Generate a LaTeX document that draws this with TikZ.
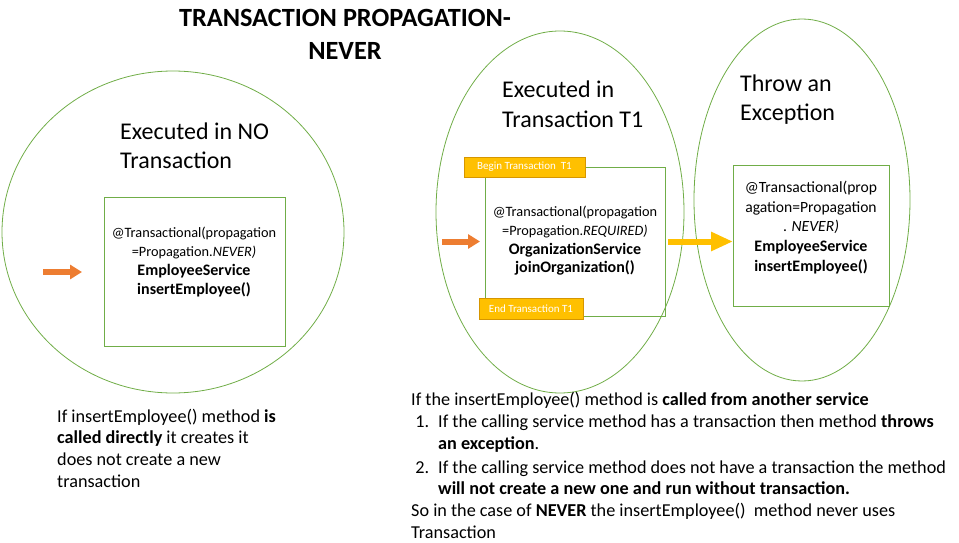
\documentclass[tikz,border=0pt]{standalone}
\usepackage{fontspec}
\setmainfont{Carlito}
\usetikzlibrary{arrows.meta,shapes.geometric}
\definecolor{zonegreen}{RGB}{112,173,71}
\definecolor{callorange}{RGB}{237,125,49}
\definecolor{txgold}{RGB}{255,192,0}
\definecolor{txgoldline}{RGB}{214,150,0}
\newcommand\svcname[1]{{\fontsize{16}{18.7}\selectfont\bfseries #1}}
\tikzset{>=stealth,
  zone/.style={ellipse,draw=zonegreen,line width=0.8pt,inner sep=0pt,outer sep=0pt},
  svcbox/.style={rectangle,draw=zonegreen,line width=0.8pt,inner sep=0pt,outer sep=0pt},
  svctext/.style={align=center,inner sep=0pt,font=\fontsize{14.3}{18.7}\selectfont},
  heading/.style={align=left,anchor=base west,inner sep=0pt,font=\fontsize{24}{29}\selectfont},
  note/.style={align=left,anchor=base west,inner sep=0pt,font=\fontsize{18.2}{21.6}\selectfont},
  txlabel/.style={rectangle,fill=txgold,draw=txgoldline,line width=0.6pt,text=white,
    inner sep=0pt,font=\fontsize{11}{12}\selectfont},
  callarrow/.style={draw=callorange,line width=6pt,-{Triangle[length=12pt,width=14pt]}},
  throwarrow/.style={draw=txgold,line width=6pt,-{Triangle[length=22pt,width=18pt]}}}

\begin{document}
\begin{tikzpicture}[x=1pt,y=-1pt]
\useasboundingbox (0,0) rectangle (959,543);
% title
\node[align=center,inner sep=0pt,anchor=base,font=\fontsize{26.3}{33}\selectfont\bfseries]
  (title) at (345,60) {TRANSACTION PROPAGATION-\\NEVER};

% the three zones
\node[zone,minimum width=342pt,minimum height=322pt] (zoneL) at (173,232) {};
\node[zone,minimum width=248pt,minimum height=362pt] (zoneM) at (560,212) {};
\node[zone,minimum width=216pt,minimum height=362pt] (zoneR) at (802,200) {};
\node[heading] (headL) at (120,168) {Executed in NO\\Transaction};
\node[heading] (headM) at (502,127) {Executed in\\Transaction T1};
\node[heading] (headR) at (740,121) {Throw an\\Exception};

% services
\node[svcbox,minimum width=181pt,minimum height=149pt] (boxL) at (194.5,271.5) {};
\node[svctext] (textL) at (194,262)
  {@Transactional(propagation\\=Propagation.\textit{NEVER)}\\
   \svcname{EmployeeService}\\\svcname{insertEmployee()}};
\node[svcbox,minimum width=180pt,minimum height=149pt] (boxM) at (575,241.5) {};
\node[svctext] (textM) at (575,241)
  {@Transactional(propagation\\=Propagation.\textit{REQUIRED)}\\
   \svcname{OrganizationService}\\\svcname{joinOrganization()}};
\node[txlabel,minimum width=121pt,minimum height=20pt] (beginT) at (524.5,167) {Begin Transaction \ T1};
\node[txlabel,minimum width=104pt,minimum height=21pt] (endT) at (531,309) {End Transaction T1};
\node[svcbox,minimum width=156pt,minimum height=141pt] (boxR) at (811,235.5) {};
\node[svctext,font=\fontsize{15.6}{19.7}\selectfont] (textR) at (811,227.5)
  {@Transactional(prop\\agation=Propagation\\. \textit{NEVER)}\\
   \svcname{EmployeeService}\\\svcname{insertEmployee()}};

% calls
\coordinate (inL) at (43,272);
\coordinate (inM) at (442,241.5);
\draw[callarrow,shorten >=22pt] (inL) -- (boxL.west |- inL);
\draw[callarrow,shorten >=5pt] (inM) -- (boxM.west);
\draw[throwarrow,shorten <=3pt] (boxM.east) -- (boxR.west |- boxM.east);

% notes
\node[note] (noteL) at (57,487)
  {If insertEmployee() method \textbf{is}\\
   \textbf{called directly} it creates it\\
   does not create a new\\
   transaction};
\node[note] (noteR) at (411,538)
  {If the insertEmployee() method is \textbf{called from another service}\\
   \makebox[27pt][l]{\ 1.}If the calling service method has a transaction then method \textbf{throws}\\
   \hspace*{27pt}\textbf{an exception}.\\[2.5pt]
   \makebox[27pt][l]{\ 2.}If the calling service method does not have a transaction the method\\
   \hspace*{27pt}\textbf{will not create a new one and run without transaction.}\\
   So in the case of \textbf{NEVER} the insertEmployee() \ method never uses\\
   Transaction};
\end{tikzpicture}
\end{document}
